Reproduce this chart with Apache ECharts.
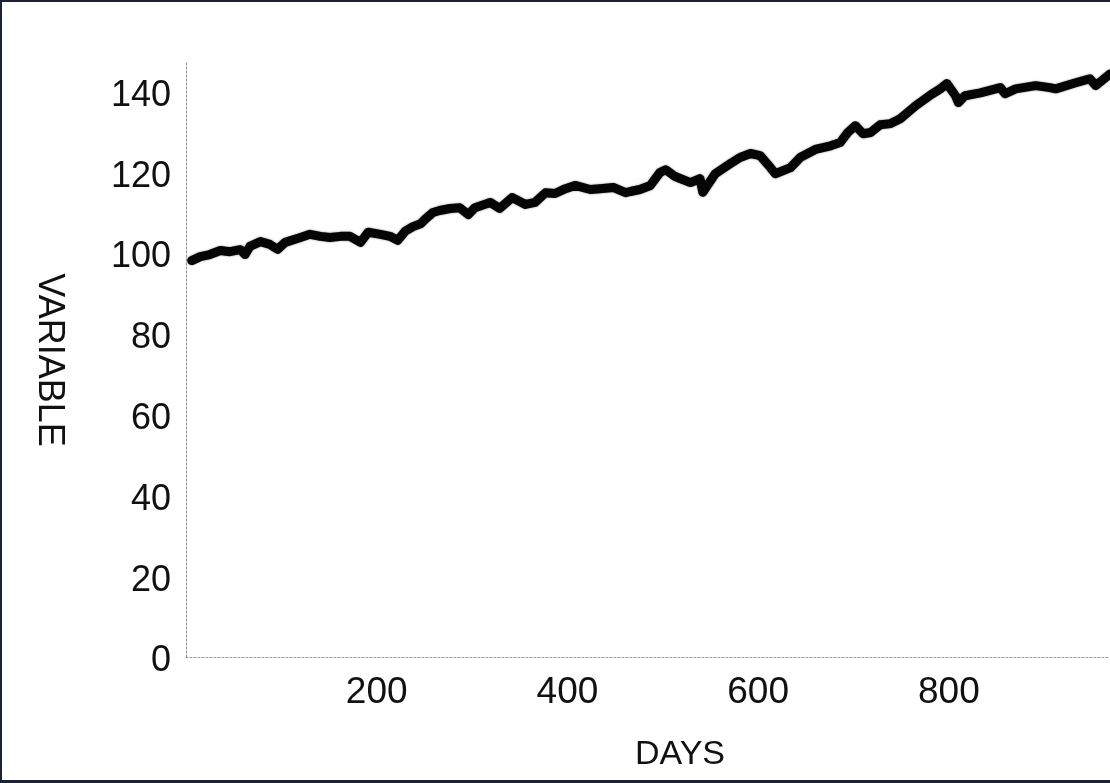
<!DOCTYPE html>
<html>
<head>
<meta charset="utf-8">
<style>
  html, body { margin: 0; padding: 0; background: #ffffff; }
  #chart { width: 1110px; height: 783px; }
</style>
<script src="https://cdn.jsdelivr.net/npm/echarts@6/dist/echarts.min.js"></script>
</head>
<body>
<div id="chart"></div>
<script>
// ---- data ----
const days = [6, 15, 25, 36, 46, 57, 62, 67, 78, 88, 96, 104, 120, 130, 141, 151, 162, 172, 183, 191,
  204, 214, 222, 230, 238, 246, 251, 259, 266, 277, 287, 296, 303, 319, 329, 342, 356, 366, 377, 387,
  398, 408, 424, 434, 448, 461, 466, 476, 487, 497, 503, 513, 529, 539, 542, 555, 571, 581, 592, 602,
  613, 618, 634, 644, 660, 676, 686, 694, 702, 710, 718, 728, 739, 749, 765, 781, 791, 798, 807, 810,
  817, 833, 849, 854, 859, 870, 891, 906, 912, 933, 948, 954, 969];
const values = [98.1, 99.1, 99.6, 100.6, 100.3, 100.8, 99.6, 101.6, 102.8, 102.1, 100.9, 102.6, 103.8, 104.6, 104.1, 103.8, 104.1, 104.1, 102.6, 105.1,
  104.6, 104.1, 103.1, 105.4, 106.5, 107.2, 108.4, 110.0, 110.5, 111.0, 111.2, 109.5, 111.2, 112.5, 111.0, 113.7, 112.0, 112.5, 114.9, 114.7,
  115.9, 116.7, 115.7, 115.9, 116.2, 114.9, 115.2, 115.7, 116.7, 119.9, 120.6, 118.9, 117.4, 118.4, 115.0, 119.6, 122.1, 123.6, 124.6, 124.1,
  121.1, 119.6, 121.1, 123.6, 125.6, 126.5, 127.3, 129.8, 131.5, 129.5, 129.8, 131.7, 132.0, 133.2, 136.4, 139.1, 140.6, 141.9, 138.9, 137.2,
  138.9, 139.6, 140.6, 140.9, 139.4, 140.6, 141.4, 140.9, 140.6, 142.1, 143.1, 141.4, 144.3];
const xTicks = [200, 400, 600, 800];
const yTicks = [0, 20, 40, 60, 80, 100, 120, 140];
const xName = 'DAYS';
const yName = 'VARIABLE';

const seriesData = days.map((d, i) => [d, values[i]]);
const FONT = "'Liberation Sans', Arial, sans-serif";
const BORDER = '#1d2135';

const chart = echarts.init(document.getElementById('chart'), null, { renderer: 'canvas' });
chart.setOption({
  backgroundColor: '#ffffff',
  animation: false,
  grid: { left: 186, top: 63, bottom: 126, right: 0, containLabel: false },
  xAxis: {
    type: 'value',
    min: 0,
    max: 969,
    interval: 200,
    name: xName,
    nameLocation: 'middle',
    nameGap: 81,
    nameTextStyle: { fontFamily: FONT, fontSize: 34, color: '#111', padding: [0, 0, 0, 64] },
    axisLine: { show: true, lineStyle: { color: '#9a9a9a', width: 1.2, type: [2, 2] } },
    axisTick: { show: false },
    splitLine: { show: false },
    axisLabel: {
      showMinLabel: false,
      showMaxLabel: false,
      margin: 17,
      fontFamily: FONT,
      fontSize: 37,
      color: '#111',
      formatter: v => (xTicks.indexOf(v) >= 0 ? String(v) : '')
    }
  },
  yAxis: {
    type: 'value',
    min: 0,
    max: 147,
    interval: 20,
    name: yName,
    nameLocation: 'middle',
    nameRotate: -90,
    nameGap: 119,
    nameTextStyle: { fontFamily: FONT, fontSize: 36, color: '#111' },
    axisLine: { show: true, lineStyle: { color: '#9a9a9a', width: 1.2, type: [2, 2] } },
    axisTick: { show: false },
    splitLine: { show: false },
    axisLabel: {
      showMaxLabel: false,
      margin: 15,
      fontFamily: FONT,
      fontSize: 36,
      color: '#111',
      verticalAlign: 'top',
      lineHeight: 9,
      formatter: v => (yTicks.indexOf(v) >= 0 ? String(v) : '')
    }
  },
  series: [{
    type: 'line',
    data: seriesData,
    showSymbol: false,
    smooth: false,
    clip: true,
    lineStyle: { color: '#050505', width: 9, join: 'round', cap: 'round', shadowBlur: 2, shadowColor: 'rgba(0,0,0,0.5)' }
  }],
  graphic: [
    { type: 'rect', left: 0, top: 0, shape: { width: 1110, height: 2 }, style: { fill: BORDER } },
    { type: 'rect', left: 0, top: 0, shape: { width: 2, height: 783 }, style: { fill: BORDER } },
    { type: 'rect', left: 0, top: 780, shape: { width: 1110, height: 3 }, style: { fill: BORDER } }
  ]
});
</script>
</body>
</html>
